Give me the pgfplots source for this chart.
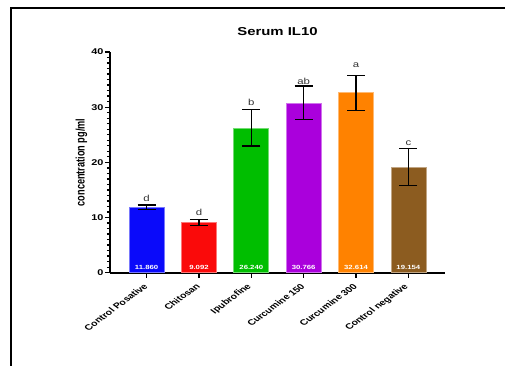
\documentclass[border=0pt]{standalone}
\usepackage{pgfplots}
\pgfplotsset{compat=1.18}
\usepackage{fontspec}
\setmainfont{Liberation Sans}[FakeStretch=1.3]
\newfontfamily\plainsans{Liberation Sans}
\newcommand{\xl}[1]{\scalebox{1.35}[1]{\rotatebox{45}{#1}}}
\definecolor{cblue}{RGB}{10,10,250}
\definecolor{cred}{RGB}{250,10,10}
\definecolor{cgreen}{RGB}{0,190,0}
\definecolor{cpurple}{RGB}{170,0,220}
\definecolor{corange}{RGB}{255,130,0}
\definecolor{cbrown}{RGB}{140,92,32}
\begin{document}
\begin{tikzpicture}
\useasboundingbox (-110bp,-93.3bp) rectangle (395bp,272.7bp);
\draw[line width=2bp] (-99bp,-93.3bp) -- (-99bp,264.9bp) -- (395bp,264.9bp);
\begin{axis}[
  at={(0,0)}, anchor=south west,
  scale only axis, width=335bp, height=220.7bp,
  xmin=-0.7, xmax=5.7, ymin=0, ymax=40,
  axis x line=bottom, axis y line=left,
  axis line style={-, line width=1.8bp, black},
  tick align=outside,
  major tick length=5bp, minor tick length=3bp,
  tick style={line width=1.3bp, black},
  xtick={0,1,2,3,4,5},
  xticklabels={{\xl{Control Posative}}, {\xl{Chitosan}}, {\xl{Ipubrofine}}, {\xl{Curcumine 150}}, {\xl{Curcumine 300}}, {\xl{Control negative}}},
  x tick label style={anchor=north east, inner sep=1bp, xshift=3bp, yshift=-4bp, font=\plainsans\fontsize{7.9}{9}\selectfont\bfseries},
  ytick={0,10,20,30,40},
  minor y tick num=9,
  y tick label style={xshift=2bp, font=\fontsize{8.4}{10}\selectfont\bfseries},
  /pgf/number format/assume math mode=true,
  title={Serum IL10},
  title style={font=\fontsize{11.5}{13}\selectfont\bfseries, at={(axis description cs:0.5,1)}, anchor=center, yshift=14bp},
  ylabel={\scalebox{1.35}[1]{\rotatebox{90}{concentration pg/ml}}},
  every axis y label/.style={at={(axis description cs:-0.085,0.5)}, anchor=center, inner sep=0pt, font=\plainsans\fontsize{9.2}{11}\selectfont\bfseries},
  clip=false,
]
\pgfplotsset{
  mybar/.style={ybar, bar width=35bp, bar shift=0pt, fill=#1, draw=#1!55!white, line width=0.7bp,
    error bars/.cd, y dir=both, y explicit,
    error bar style={line width=1.3bp, black},
    error mark options={rotate=90, mark size=9bp, line width=1.3bp, black}},
}
\addplot[mybar=cblue] coordinates {(0,11.860) +- (0,0.43)};
\addplot[mybar=cred] coordinates {(1,9.092) +- (0,0.52)};
\addplot[mybar=cgreen] coordinates {(2,26.240) +- (0,3.30)};
\addplot[mybar=cpurple] coordinates {(3,30.766) +- (0,3.05)};
\addplot[mybar=corange] coordinates {(4,32.614) +- (0,3.17)};
\addplot[mybar=cbrown] coordinates {(5,19.154) +- (0,3.40)};
% values inside bars
\addplot[draw=none, mark=none, nodes near coords, point meta=explicit symbolic,
  every node near coord/.style={anchor=center, inner sep=0pt, text=white, font=\fontsize{6}{7}\selectfont\bfseries}]
  coordinates {(0,0.95)[11.860] (1,0.95)[9.092] (2,0.95)[26.240] (3,0.95)[30.766] (4,0.95)[32.614] (5,0.95)[19.154]};
% significance letters
\addplot[draw=none, mark=none, nodes near coords, point meta=explicit symbolic,
  every node near coord/.style={anchor=center, inner sep=0pt, text=black!80, font=\fontsize{8.8}{10}\selectfont}]
  coordinates {(0,13.54)[d] (1,10.87)[d] (2,30.81)[b] (3,34.74)[ab] (4,37.52)[a] (5,23.56)[c]};
\end{axis}
\end{tikzpicture}
\end{document}
